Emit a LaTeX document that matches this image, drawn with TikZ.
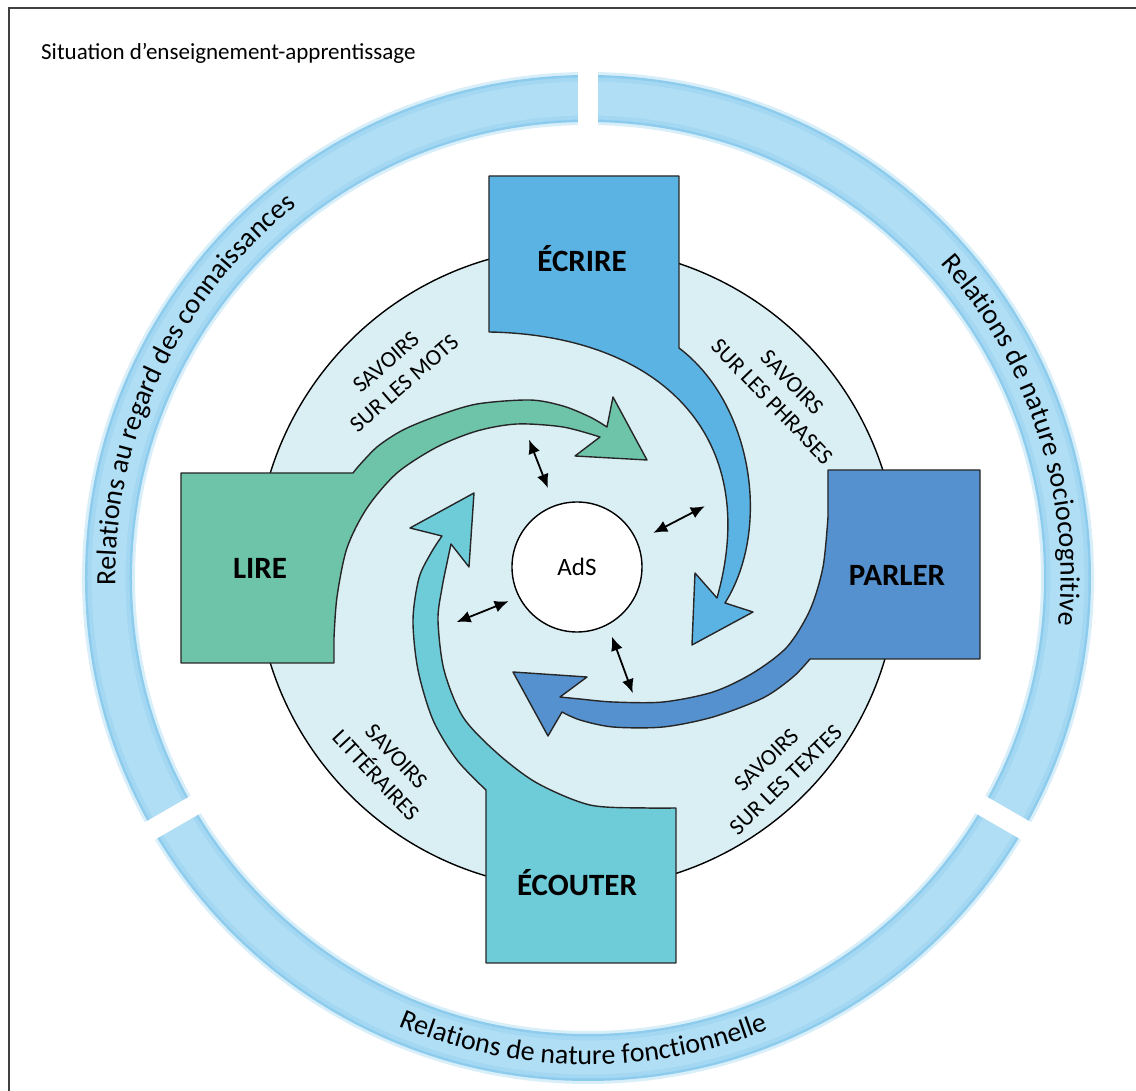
\documentclass[tikz,border=0pt]{standalone}
\usepackage{fontspec}
\setmainfont{Carlito}
\usepackage{tikz}
\usetikzlibrary{arrows.meta}
\usetikzlibrary{decorations.text}
\tikzset{>=latex}

\definecolor{lirecol}{HTML}{6EC4A9}
\definecolor{ecrirecol}{HTML}{5BB3E3}
\definecolor{parlercol}{HTML}{5591CE}
\definecolor{ecoutercol}{HTML}{6ECBD8}
\definecolor{diskcol}{HTML}{DAEFF4}
\definecolor{ringglow}{HTML}{D8EFFA}
\definecolor{ringedge}{HTML}{8ECCEE}
\definecolor{ringmid}{HTML}{A3D7F2}
\definecolor{ringlight}{HTML}{B0DEF5}

\tikzstyle{arm} = [draw = black!85, line width = 1.4pt, line join = round]
\tikzstyle{armlabel} = [inner sep = 0, font = \fontsize{31}{31}\selectfont\bfseries]
\tikzstyle{savoir} = [inner sep = 0, align = center, font = \fontsize{23}{28}\selectfont]
\tikzstyle{dbl} = [{Latex[length=14pt, width=12pt]}-{Latex[length=14pt, width=12pt]}, line width = 1.8pt]
\tikzstyle{ringtext} = [decorate, decoration = {text along path, text align = center, text color = black}]
\newcommand{\ringfont}{\fontsize{28}{30}\selectfont}

\begin{document}
\begin{tikzpicture}[x = 1pt, y = 1pt]
\useasboundingbox (-577, -523) rectangle (559, 568);
\draw [draw = black!75, line width = 1.5pt] (-568, 560) rectangle (600, -600);
\node [anchor = base west, inner sep = 0, font = \fontsize{23}{23}\selectfont] (titre) at (-536, 508) {Situation d’enseignement-apprentissage};

% anneau des relations
\begin{scope}[shift = {(11, -10)}]
\foreach \w/\c in {53pt/ringglow, 47pt/ringedge, 42pt/ringmid, 34pt/ringlight}
  \draw [line width = \w, draw = \c] (0, 0) circle [radius = 479.5pt];
\foreach \g in {90, 210, 330}
  \draw [line width = 20pt, draw = white] (\g:440) -- (\g:512);
\path [ringtext, decoration = {text = {|\ringfont|Relations au regard des connaissances}}] (194.5:472.5) arc [start angle = 194.5, end angle = 114.5, radius = 472.5pt];
\path [ringtext, decoration = {text = {|\ringfont|Relations de nature sociocognitive}}] (58:472.5) arc [start angle = 58, end angle = -22, radius = 472.5pt];
\path [ringtext, decoration = {text = {|\ringfont|Relations de nature fonctionnelle}}] (-130.6:486.5) arc [start angle = -130.6, end angle = -50.6, radius = 486.5pt];
\end{scope}

\filldraw [fill = diskcol, draw = black, line width = 1.4pt] (0, 0) circle [radius = 321pt];

% les quatre bras
\filldraw [arm, fill = ecrirecol] (-88, 392) -- (102, 392) -- (102, 220)
  .. controls (175, 165) and (195, 40) .. (148, -35)
  -- (176, -44) -- (115, -77) -- (118, -5) -- (140, -30)
  .. controls (186, 133) and (82, 233) .. (-88, 236)
  -- cycle;
\node [armlabel] (ecrire) at (5, 309) {ÉCRIRE};

\filldraw [arm, fill = parlercol] (251, 98) -- (403, 98) -- (403, -91) -- (233, -91)
  -- plot [smooth] coordinates {(233, -91) (216, -109) (186, -130) (136, -149) (86, -159) (36, -159) (3, -152) (-15, -144)}
  -- (-29, -168) -- (-64, -104) -- (10, -109)
  -- plot [smooth] coordinates {(-17, -129) (3, -131) (36, -134) (86, -134) (136, -124) (176, -105) (210, -79) (233, -42) (246, 1) (251, 51)}
  -- cycle;
\node [armlabel] (parler) at (320, -7) {PARLER};

\filldraw [arm, fill = ecoutercol] (99, -240) -- (99, -395) -- (-91, -395) -- (-91, -222)
  -- plot [smooth] coordinates {(-91, -222) (-120, -192) (-144, -152) (-159, -102) (-164, -52) (-158, -10) (-146, 15) (-135, 32)}
  -- (-167, 40) -- (-103, 75) -- (-108, 1)
  -- plot [smooth] coordinates {(-126, 24) (-130, 5) (-135, -20) (-139, -52) (-133, -102) (-114, -149) (-80, -185) (-40, -215) (13, -237) (70, -240) (96, -240)}
  -- cycle;
\node [armlabel] (ecouter) at (0, -315) {ÉCOUTER};

\filldraw [arm, fill = lirecol] (-396, 95) -- (-224, 95)
  -- plot [smooth] coordinates {(-220, 100) (-200, 121) (-174, 138) (-140, 152) (-100, 164) (-47, 168) (-14, 162) (13, 151) (30, 141)}
  -- (36, 171) -- (70, 108) -- (-2, 112)
  -- plot [smooth] coordinates {(23, 131) (-14, 141) (-60, 144) (-100, 137) (-140, 121) (-180, 95) (-210, 60) (-230, 20) (-240, -29) (-243, -70)}
  -- (-243, -95) -- (-396, -95) -- cycle;
\node [armlabel] (lire) at (-317, 0) {LIRE};

\node [circle, draw = black, line width = 1.4pt, fill = white, minimum size = 130pt, inner sep = 0, font = \fontsize{25}{25}\selectfont] (ads) at (0, 1) {AdS};

% liens avec AdS
\coordinate (m1) at (110:85);
\coordinate (n1) at (110.5:137);
\coordinate (m2) at (24.7:84);
\coordinate (n2) at (25.8:142);
\coordinate (m3) at (-63:77);
\coordinate (n3) at (-66:137);
\coordinate (m4) at (205.9:76);
\coordinate (n4) at (204.2:132);
\foreach \i in {1, ..., 4}
  \draw [dbl] (m\i) -- (n\i);

\node [savoir, rotate = 41] (mots) at (-182, 195) {SAVOIRS\\SUR LES MOTS};
\node [savoir, rotate = -46] (phrases) at (205, 176) {SAVOIRS\\SUR LES PHRASES};
\node [savoir, rotate = 44] (textes) at (199, -202) {SAVOIRS\\SUR LES TEXTES};
\node [savoir, rotate = -47] (litt) at (-191, -198) {SAVOIRS\\LITTÉRAIRES};
\end{tikzpicture}
\end{document}
